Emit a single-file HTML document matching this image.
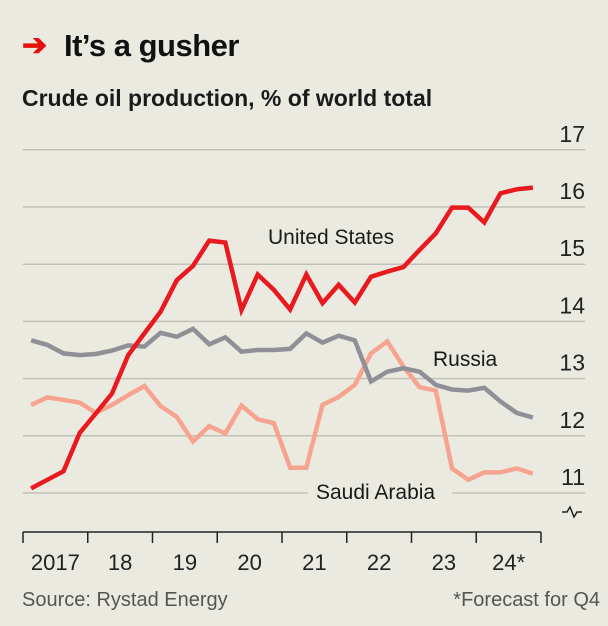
<!DOCTYPE html>
<html><head><meta charset="utf-8"><style>
html,body{margin:0;padding:0;background:#ebeae1;}
svg{display:block;font-family:"Liberation Sans",sans-serif;}
</style></head><body>
<svg id="chart" width="608" height="626" viewBox="0 0 608 626">
<rect width="608" height="626" fill="#ebeae1"/>
<text x="22" y="55" font-size="30" font-weight="bold" fill="#e3120b">➔</text>
<text x="64" y="56" font-size="31" font-weight="bold" fill="#111" letter-spacing="-0.5">It’s a gusher</text>
<text x="22" y="106" font-size="23" font-weight="bold" fill="#1a1a1a">Crude oil production, % of world total</text>
<g id="grid"></g>
<g id="series"></g>
<g id="axis"></g>
<text x="600" y="606" font-size="20" fill="#555" text-anchor="end">*Forecast for Q4</text>
<text x="22" y="606" font-size="20" fill="#555">Source: Rystad Energy</text>
</svg>
<script>
const yTicks = [11,12,13,14,15,16,17];
const years = ["2017","18","19","20","21","22","23","24*"];
const us = [11.08,11.23,11.38,12.05,12.39,12.74,13.41,13.79,14.17,14.72,14.97,15.41,15.38,14.2,14.82,14.55,14.21,14.82,14.32,14.64,14.33,14.78,14.87,14.95,15.25,15.54,15.99,15.99,15.73,16.24,16.31,16.34];
const russia = [13.67,13.59,13.44,13.41,13.43,13.49,13.58,13.56,13.8,13.73,13.87,13.6,13.72,13.47,13.5,13.5,13.52,13.79,13.63,13.75,13.67,12.95,13.12,13.18,13.12,12.89,12.81,12.79,12.84,12.6,12.4,12.32];
const saudi = [12.54,12.67,12.63,12.58,12.4,12.54,12.71,12.87,12.52,12.33,11.9,12.17,12.04,12.53,12.29,12.22,11.44,11.44,12.54,12.68,12.89,13.44,13.65,13.21,12.85,12.79,11.43,11.23,11.36,11.36,11.43,11.34];

const NS="http://www.w3.org/2000/svg";
const yScale = v => 493 - (v-11)*57.2;
const xLeft=23, xRight=541, qW=(xRight-xLeft)/32;
const xScale = i => xLeft + (i+0.5)*qW;
function mk(tag, attrs, parent){const e=document.createElementNS(NS,tag);for(const k in attrs)e.setAttribute(k,attrs[k]);parent.appendChild(e);return e;}
const grid=document.getElementById('grid');
yTicks.forEach(t=>{
  const y=yScale(t);
  if(t===11){
    const l1=mk('line',{x1:xLeft,x2:308,y1:y,y2:y,stroke:'#c2c1b8','stroke-width':1.5},grid);
    
    
    const l2=mk('line',{x1:452,x2:585,y1:y,y2:y,stroke:'#c2c1b8','stroke-width':1.5},grid);
    
    
  } else {
    const l=mk('line',{x1:xLeft,x2:585,y1:y,y2:y,stroke:'#c2c1b8','stroke-width':1.5},grid);
    
    
  }
  const tx=mk('text',{x:585,y:y-8,'font-size':23,'text-anchor':'end',fill:'#222'},grid);
  tx.textContent=t;
  
  
});
const brk=mk('path',{d:'M562,512 h5 l3,-5 l4,10 l3,-5 h5',fill:'none',stroke:'#222','stroke-width':1.5},grid);



const ser=document.getElementById('series');
function line(data,color,name){
  const d=data.map((v,i)=>(i?'L':'M')+xScale(i).toFixed(1)+','+yScale(v).toFixed(1)).join(' ');
  const p=mk('path',{d:d,fill:'none',stroke:color,'stroke-width':4.5,'stroke-linejoin':'miter'},ser);
  
  
}
line(saudi,'#f6a48f','saudi-arabia-line');
line(russia,'#8f9095','russia-line');
line(us,'#e8191f','united-states-line');
function lab(x,y,t,name){const e=mk('text',{x:x,y:y,'font-size':21,fill:'#1a1a1a'},ser);e.textContent=t;
  
  }
lab(268,244,'United States','united-states-label');
lab(433,366,'Russia','russia-label');
lab(316,499,'Saudi Arabia','saudi-arabia-label');

const ax=document.getElementById('axis');
const axl=mk('line',{x1:xLeft,x2:xRight,y1:532,y2:532,stroke:'#222','stroke-width':1.5},ax);


for(let k=0;k<=years.length;k++){
  const x=xLeft+k*4*qW;
  const tk=mk('line',{x1:x,x2:x,y1:532,y2:543,stroke:'#222','stroke-width':1.5},ax);
  
  
}
years.forEach((y,k)=>{
  const t=mk('text',{x:xLeft+(k*4+2)*qW,y:570,'font-size':22,'text-anchor':'middle',fill:'#222'},ax);
  t.textContent=y;
  
  
});
</script>
</body></html>
